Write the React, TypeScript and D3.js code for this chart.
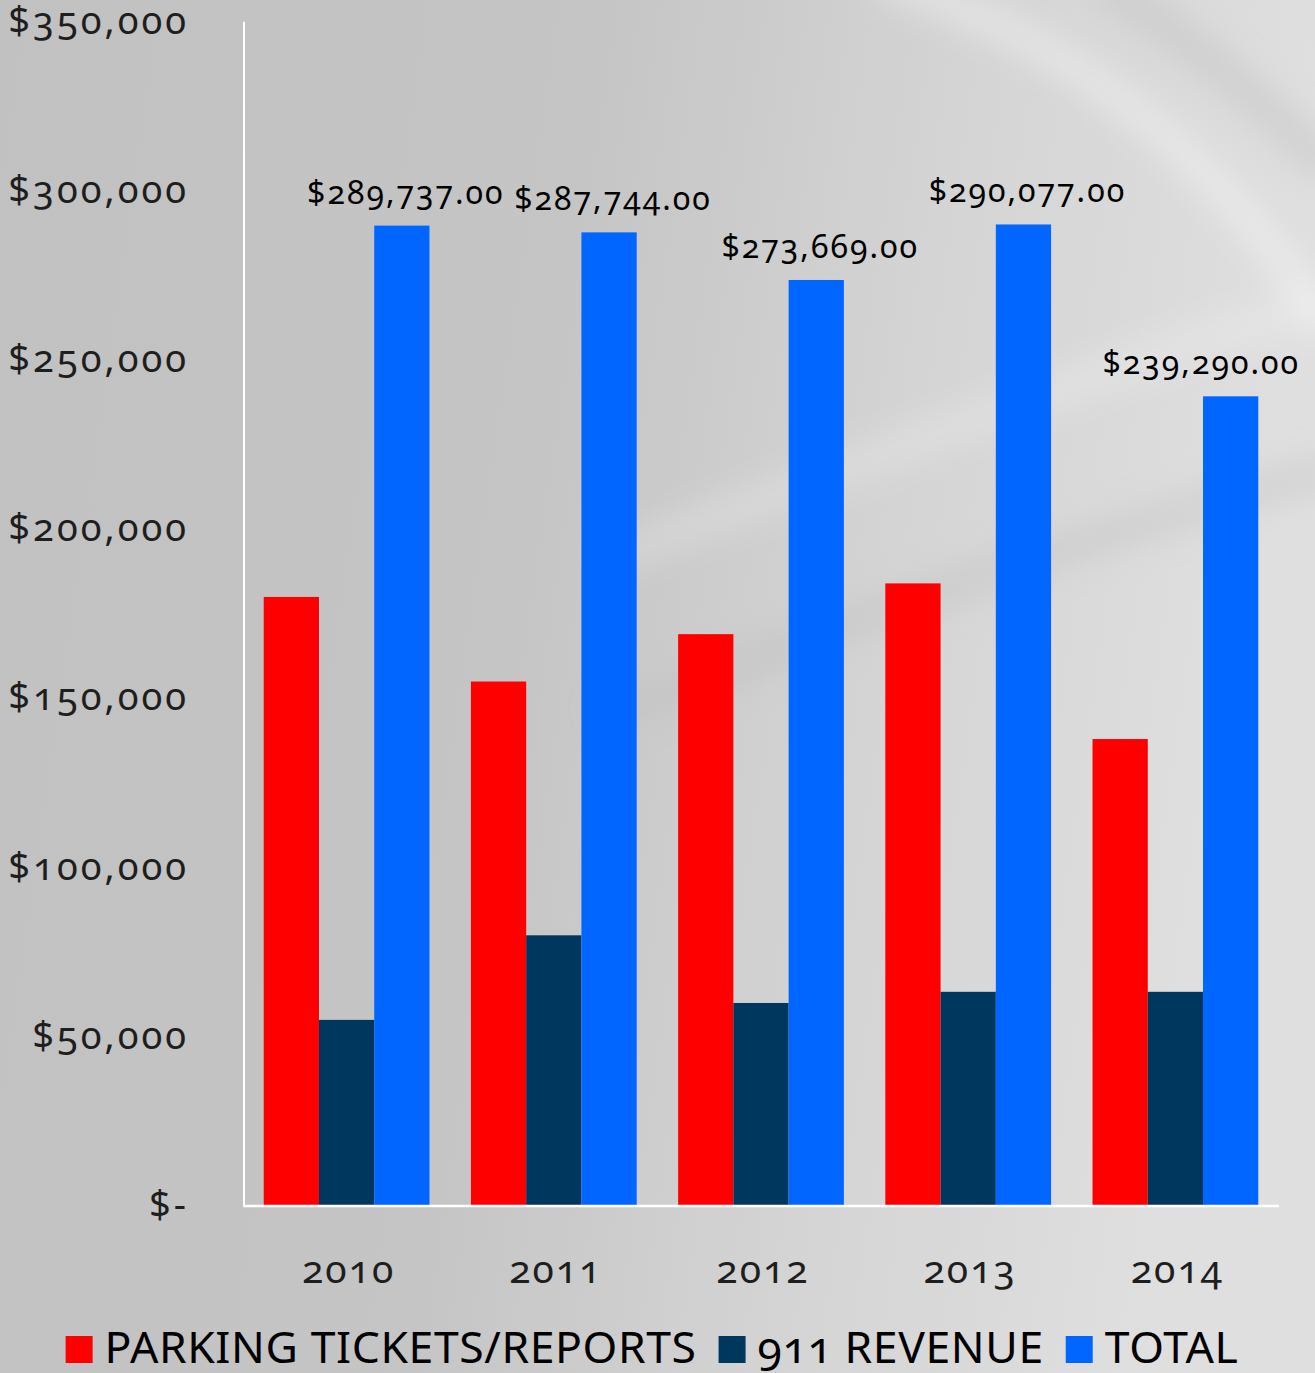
import React, { useEffect, useRef } from "react";
import * as d3 from "d3";

const years = ["2010", "2011", "2012", "2013", "2014"];
const parkingTickets = [180000, 155000, 169000, 184000, 138000];
const revenue911 = [55000, 80000, 60000, 63300, 63300];
const totals = [289737, 287744, 273669, 290077, 239290];
const yTicks = [0, 50000, 100000, 150000, 200000, 250000, 300000, 350000];
const seriesNames = ["PARKING TICKETS/REPORTS", "911 REVENUE", "TOTAL"];
const seriesColors = ["#ff0000", "#00375e", "#0066ff"];

const W = 1315;
const H = 1373;
const FONT = "'Noto Sans', 'Open Sans', sans-serif";

export default function App() {
  const ref = useRef<SVGSVGElement | null>(null);

  useEffect(() => {
    const svg = d3.select(ref.current);
    svg.selectAll("*").remove();

    const defs = svg.append("defs");
    const bg = defs
      .append("linearGradient")
      .attr("id", "bg")
      .attr("x1", 0)
      .attr("y1", 0)
      .attr("x2", 1)
      .attr("y2", 0.15);
    [
      [0, "#c1c1c1"],
      [0.45, "#c5c5c5"],
      [0.72, "#d4d4d4"],
      [1, "#dfdfdf"],
    ].forEach(([o, c]) => bg.append("stop").attr("offset", o as number).attr("stop-color", c as string));
    const blur = defs.append("filter").attr("id", "blur").attr("x", "-20%").attr("y", "-20%").attr("width", "140%").attr("height", "140%");
    blur.append("feGaussianBlur").attr("stdDeviation", 14);

    svg.append("rect").attr("width", W).attr("height", H).attr("fill", "url(#bg)");

    // soft light streaks
    const streaks = svg.append("g").attr("filter", "url(#blur)").attr("fill", "none");
    streaks
      .append("path")
      .attr("d", "M 600 560 C 820 480, 1060 380, 1330 300")
      .attr("stroke", "#ffffff")
      .attr("stroke-opacity", 0.18)
      .attr("stroke-width", 40);
    streaks
      .append("path")
      .attr("d", "M 880 -20 C 1080 40, 1220 160, 1330 330")
      .attr("stroke", "#ffffff")
      .attr("stroke-opacity", 0.3)
      .attr("stroke-width", 36);
    streaks
      .append("path")
      .attr("d", "M 600 720 C 800 640, 1000 560, 1330 470")
      .attr("stroke", "#b8b8b8")
      .attr("stroke-opacity", 0.25)
      .attr("stroke-width", 40);
    streaks
      .append("path")
      .attr("d", "M 1100 -20 C 1220 60, 1290 130, 1330 170")
      .attr("stroke", "#bdbdbd")
      .attr("stroke-opacity", 0.35)
      .attr("stroke-width", 40);

    const x = d3.scaleBand<string>().domain(years).range([243, 1279]).paddingInner(0.2).paddingOuter(0.1);
    const x1 = d3.scaleBand<number>().domain([0, 1, 2]).range([0, x.bandwidth()]);
    const y = d3.scaleLinear().domain([0, 350000]).range([1206, 21.7]);

    const series = [parkingTickets, revenue911, totals];

    const bars = svg.append("g");
    series.forEach((vals, si) => {
      bars
        .selectAll(null)
        .data(vals)
        .enter()
        .append("rect")
        .attr("x", (_d, i) => (x(years[i]) as number) + (x1(si) as number))
        .attr("y", (d) => y(d))
        .attr("width", x1.bandwidth())
        .attr("height", (d) => y(0) - y(d))
        .attr("fill", seriesColors[si]);
    });

    // axes lines
    svg
      .append("line")
      .attr("x1", 244)
      .attr("x2", 244)
      .attr("y1", y(350000))
      .attr("y2", y(0))
      .attr("stroke", "#ffffff")
      .attr("stroke-width", 2);
    svg
      .append("line")
      .attr("x1", 243)
      .attr("x2", 1279)
      .attr("y1", y(0))
      .attr("y2", y(0))
      .attr("stroke", "#ffffff")
      .attr("stroke-width", 2.5);

    const fmt = d3.format(",");
    // y tick labels
    svg
      .append("g")
      .selectAll("text")
      .data(yTicks)
      .enter()
      .append("text")
      .attr("x", 189)
      .attr("y", (d) => y(d) + 12)
      .attr("text-anchor", "end")
      .attr("font-family", FONT)
      .attr("font-size", 38)
      .attr("letter-spacing", 3)
      .attr("fill", "#1e1e1e")
      .style("font-variant-numeric", "oldstyle-nums")
      .text((d) => (d === 0 ? "$-" : "$" + fmt(d)));

    // x labels
    svg
      .append("g")
      .selectAll("text")
      .data(years)
      .enter()
      .append("text")
      .attr("x", (d) => (x(d) as number) + x.bandwidth() / 2 + 2)
      .attr("y", 1283)
      .attr("text-anchor", "middle")
      .attr("font-family", FONT)
      .attr("font-size", 39)
      .attr("letter-spacing", 2)
      .attr("fill", "#1e1e1e")
      .style("font-variant-numeric", "oldstyle-nums")
      .text((d) => d);

    // data labels for totals
    const fmt2 = d3.format(",.2f");
    const labels = svg.append("g");
    totals.forEach((v, i) => {
      const cx = (x(years[i]) as number) + (x1(2) as number) + x1.bandwidth() / 2 + 4;
      const t = labels
        .append("text")
        .attr("y", y(v) - 22)
        .attr("font-family", FONT)
        .attr("font-size", 32)
        .attr("letter-spacing", 2)
        .attr("fill", "#000000")
        .style("font-variant-numeric", "oldstyle-nums")
        .text("$" + fmt2(v));
      const w = (t.node() as SVGTextElement).getComputedTextLength();
      const left = Math.min(cx - w / 2, 1300 - w);
      t.attr("x", left);
    });

    // legend
    const lg = svg.append("g");
    const items: { g: any; w: number }[] = [];
    seriesNames.forEach((name, i) => {
      const g = lg.append("g");
      g.append("rect").attr("x", 0).attr("y", -27).attr("width", 27).attr("height", 27).attr("fill", seriesColors[i]);
      const t = g
        .append("text")
        .attr("x", 39)
        .attr("y", 0)
        .attr("font-family", FONT)
        .attr("font-size", 44.5)
        .attr("letter-spacing", 0.6)
        .attr("fill", "#000000")
        .style("font-variant-numeric", "oldstyle-nums")
        .text(name);
      const w = 39 + (t.node() as SVGTextElement).getComputedTextLength();
      items.push({ g, w });
    });
    const gap = 22;
    const totalW = items.reduce((s, it) => s + it.w, 0) + gap * (items.length - 1);
    let cur = 652 - totalW / 2;
    items.forEach((it) => {
      it.g.attr("transform", `translate(${cur},1363)`);
      cur += it.w + gap;
    });
  }, []);

  return (
    <div style={{ position: "absolute", left: 0, top: 0 }}>
      <svg ref={ref} width={W} height={H} style={{ display: "block" }} />
    </div>
  );
}
